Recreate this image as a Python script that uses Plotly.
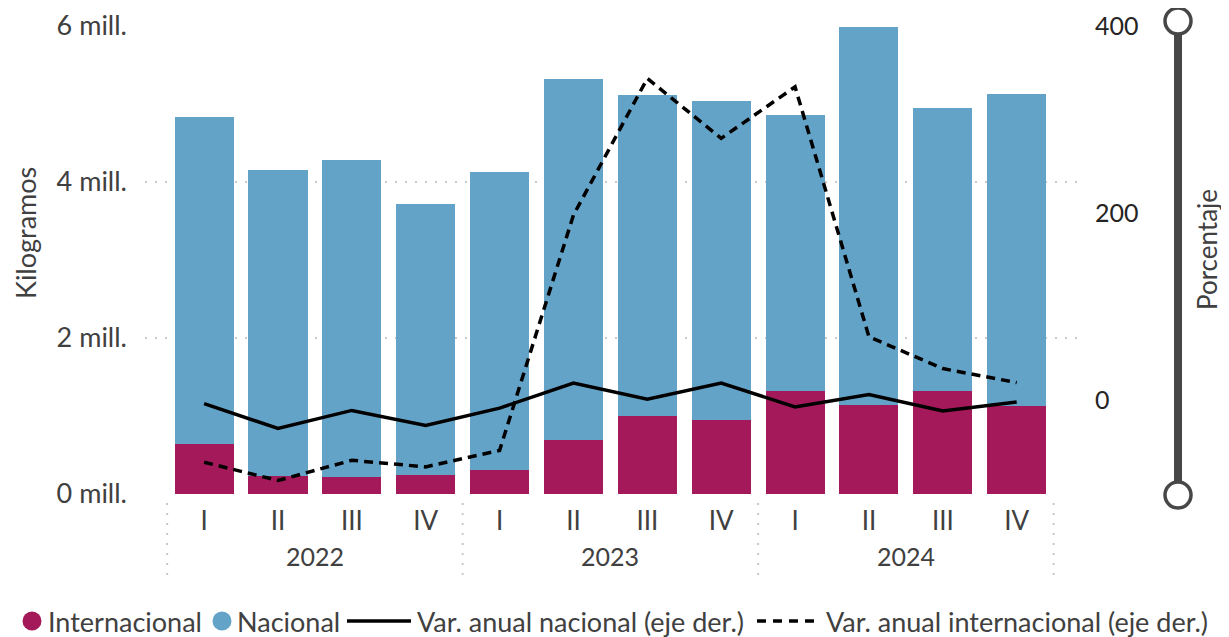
import plotly.graph_objects as go

# ---------------- data ----------------
years = ["2022", "2023", "2024"]
quarters = ["I", "II", "III", "IV"]
periodos = [q for y in years for q in quarters]
# millones de kilogramos
internacional = [0.64, 0.23, 0.22, 0.24, 0.31, 0.69, 1.00, 0.95, 1.32, 1.14, 1.32, 1.13]
nacional = [4.19, 3.92, 4.06, 3.48, 3.82, 4.63, 4.12, 4.09, 3.54, 4.85, 3.63, 4.00]
# porcentaje
var_nacional = [-3.5, -30, -10.7, -26.7, -8.2, 18.5, 1.4, 18.5, -7, 6.3, -11.4, -1.8]
var_internacional = [-66, -85.6, -64, -71, -53.5, 198, 344, 280, 335, 68, 34, 19]
left_tickvals = [0, 2, 4, 6]
left_ticktext = ["0 mill.", "2 mill.", "4 mill.", "6 mill."]
right_tickvals = [0, 200, 400]

# ---------------- styling ----------------
FONT = "Segoe UI, Lato, Open Sans, sans-serif"
C_INT = "#A4195A"
C_NAC = "#64A3C8"
C_TXT = "#404040"
OFF = 8  # page body margin in the browser
W, H = 1229 - OFF, 637 - OFF
L, R, T, B = 145 - OFF, 151, 26 - OFF, 143
PW, PH = W - L - R, H - T - B


def px(x):
    """screen pixel x -> paper"""
    return (x - OFF - L) / PW


def py(y):
    """screen pixel y -> paper"""
    return (H - B - (y - OFF)) / PH


idx = list(range(len(periodos)))

fig = go.Figure()
fig.add_bar(x=idx, y=internacional, name="Internacional", marker=dict(color=C_INT, line_width=0),
            width=0.8, showlegend=False)
fig.add_bar(x=idx, y=nacional, name="Nacional", marker=dict(color=C_NAC, line_width=0),
            width=0.8, showlegend=False)
fig.add_scatter(x=idx, y=var_nacional, yaxis="y2", mode="lines", name="Var. anual nacional (eje der.)",
                line=dict(color="black", width=3.5), showlegend=False)
fig.add_scatter(x=idx, y=var_internacional, yaxis="y2", mode="lines",
                name="Var. anual internacional (eje der.)",
                line=dict(color="black", width=3.5, dash="9px,6px"), showlegend=False)

shapes = []
annotations = []

# year group separators
n_q = len(quarters)
for g in range(len(years) + 1):
    xs = g * n_q - 0.5
    shapes.append(dict(type="line", xref="x", yref="paper", x0=xs, x1=xs, y0=py(503), y1=py(578),
                       line=dict(color="#c8c8c8", width=2, dash="2px,8px")))
# year labels
for g, yr in enumerate(years):
    annotations.append(dict(x=g * n_q + (n_q - 1) / 2, xref="x", y=py(556), yref="paper", text=yr,
                            showarrow=False, font=dict(size=25, color=C_TXT), yanchor="middle"))

# axis titles
annotations.append(dict(x=px(25), y=py(233), xref="paper", yref="paper", text="Kilogramos", textangle=-90,
                        showarrow=False, font=dict(size=27, color=C_TXT), xanchor="center", yanchor="middle"))
annotations.append(dict(x=px(1207), y=py(250), xref="paper", yref="paper", text="Porcentaje", textangle=-90,
                        showarrow=False, font=dict(size=26, color=C_TXT), xanchor="center", yanchor="middle"))

# zoom slider on the right
sx = px(1178)
shapes.append(dict(type="line", xref="paper", yref="paper", x0=sx, x1=sx, y0=py(21), y1=py(495),
                   line=dict(color="#474747", width=8)))
for cy in (21, 495):
    shapes.append(dict(type="circle", xref="paper", yref="paper", xsizemode="pixel", ysizemode="pixel",
                       xanchor=sx, yanchor=py(cy), x0=-13, x1=13, y0=-13, y1=13,
                       fillcolor="white", line=dict(color="#474747", width=3.5)))

# manual legend
ly = py(621)
for cx, col in ((32, C_INT), (222, C_NAC)):
    shapes.append(dict(type="circle", xref="paper", yref="paper", xsizemode="pixel", ysizemode="pixel",
                       xanchor=px(cx), yanchor=ly, x0=-9.5, x1=9.5, y0=-9.5, y1=9.5,
                       fillcolor=col, line=dict(width=0)))
shapes.append(dict(type="line", xref="paper", yref="paper", x0=px(347), x1=px(411), y0=ly, y1=ly,
                   line=dict(color="black", width=3.5)))
shapes.append(dict(type="line", xref="paper", yref="paper", x0=px(757), x1=px(819), y0=ly, y1=ly,
                   line=dict(color="black", width=3.5, dash="9px,7px")))
for tx, txt in ((46, "Internacional"), (235, "Nacional"), (415, "Var. anual nacional (eje der.)"),
                (824, "Var. anual internacional (eje der.)")):
    annotations.append(dict(x=px(tx), y=ly, xref="paper", yref="paper", text=txt, showarrow=False,
                            xanchor="left", yanchor="middle", font=dict(size=27, color=C_TXT)))

fig.update_layout(
    width=W, height=H,
    margin=dict(l=L, r=R, t=T, b=B, autoexpand=False),
    paper_bgcolor="white", plot_bgcolor="white",
    font=dict(family=FONT, size=26, color=C_TXT),
    barmode="stack", bargap=0.2,
    showlegend=False,
    xaxis=dict(range=[-0.8, 11.83], tickvals=idx, ticktext=periodos, showgrid=False, zeroline=False,
               showline=False, ticks="", ticklabelstandoff=9, tickfont=dict(size=26, color=C_TXT)),
    yaxis=dict(range=[0, 6], tickvals=left_tickvals, ticktext=left_ticktext, showgrid=True,
               gridcolor="#c8c8c8", griddash="2px,8px", gridwidth=2, zeroline=False, showline=False,
               ticks="", ticklabelstandoff=17, tickfont=dict(size=27, color=C_TXT)),
    yaxis2=dict(range=[-100, 400], tickvals=right_tickvals, overlaying="y", side="right", showgrid=False,
                zeroline=False, showline=False, ticks="", ticklabelstandoff=16,
                tickfont=dict(size=25, color="#252423")),
    shapes=shapes,
    annotations=annotations,
)

fig.write_html("out.html")
